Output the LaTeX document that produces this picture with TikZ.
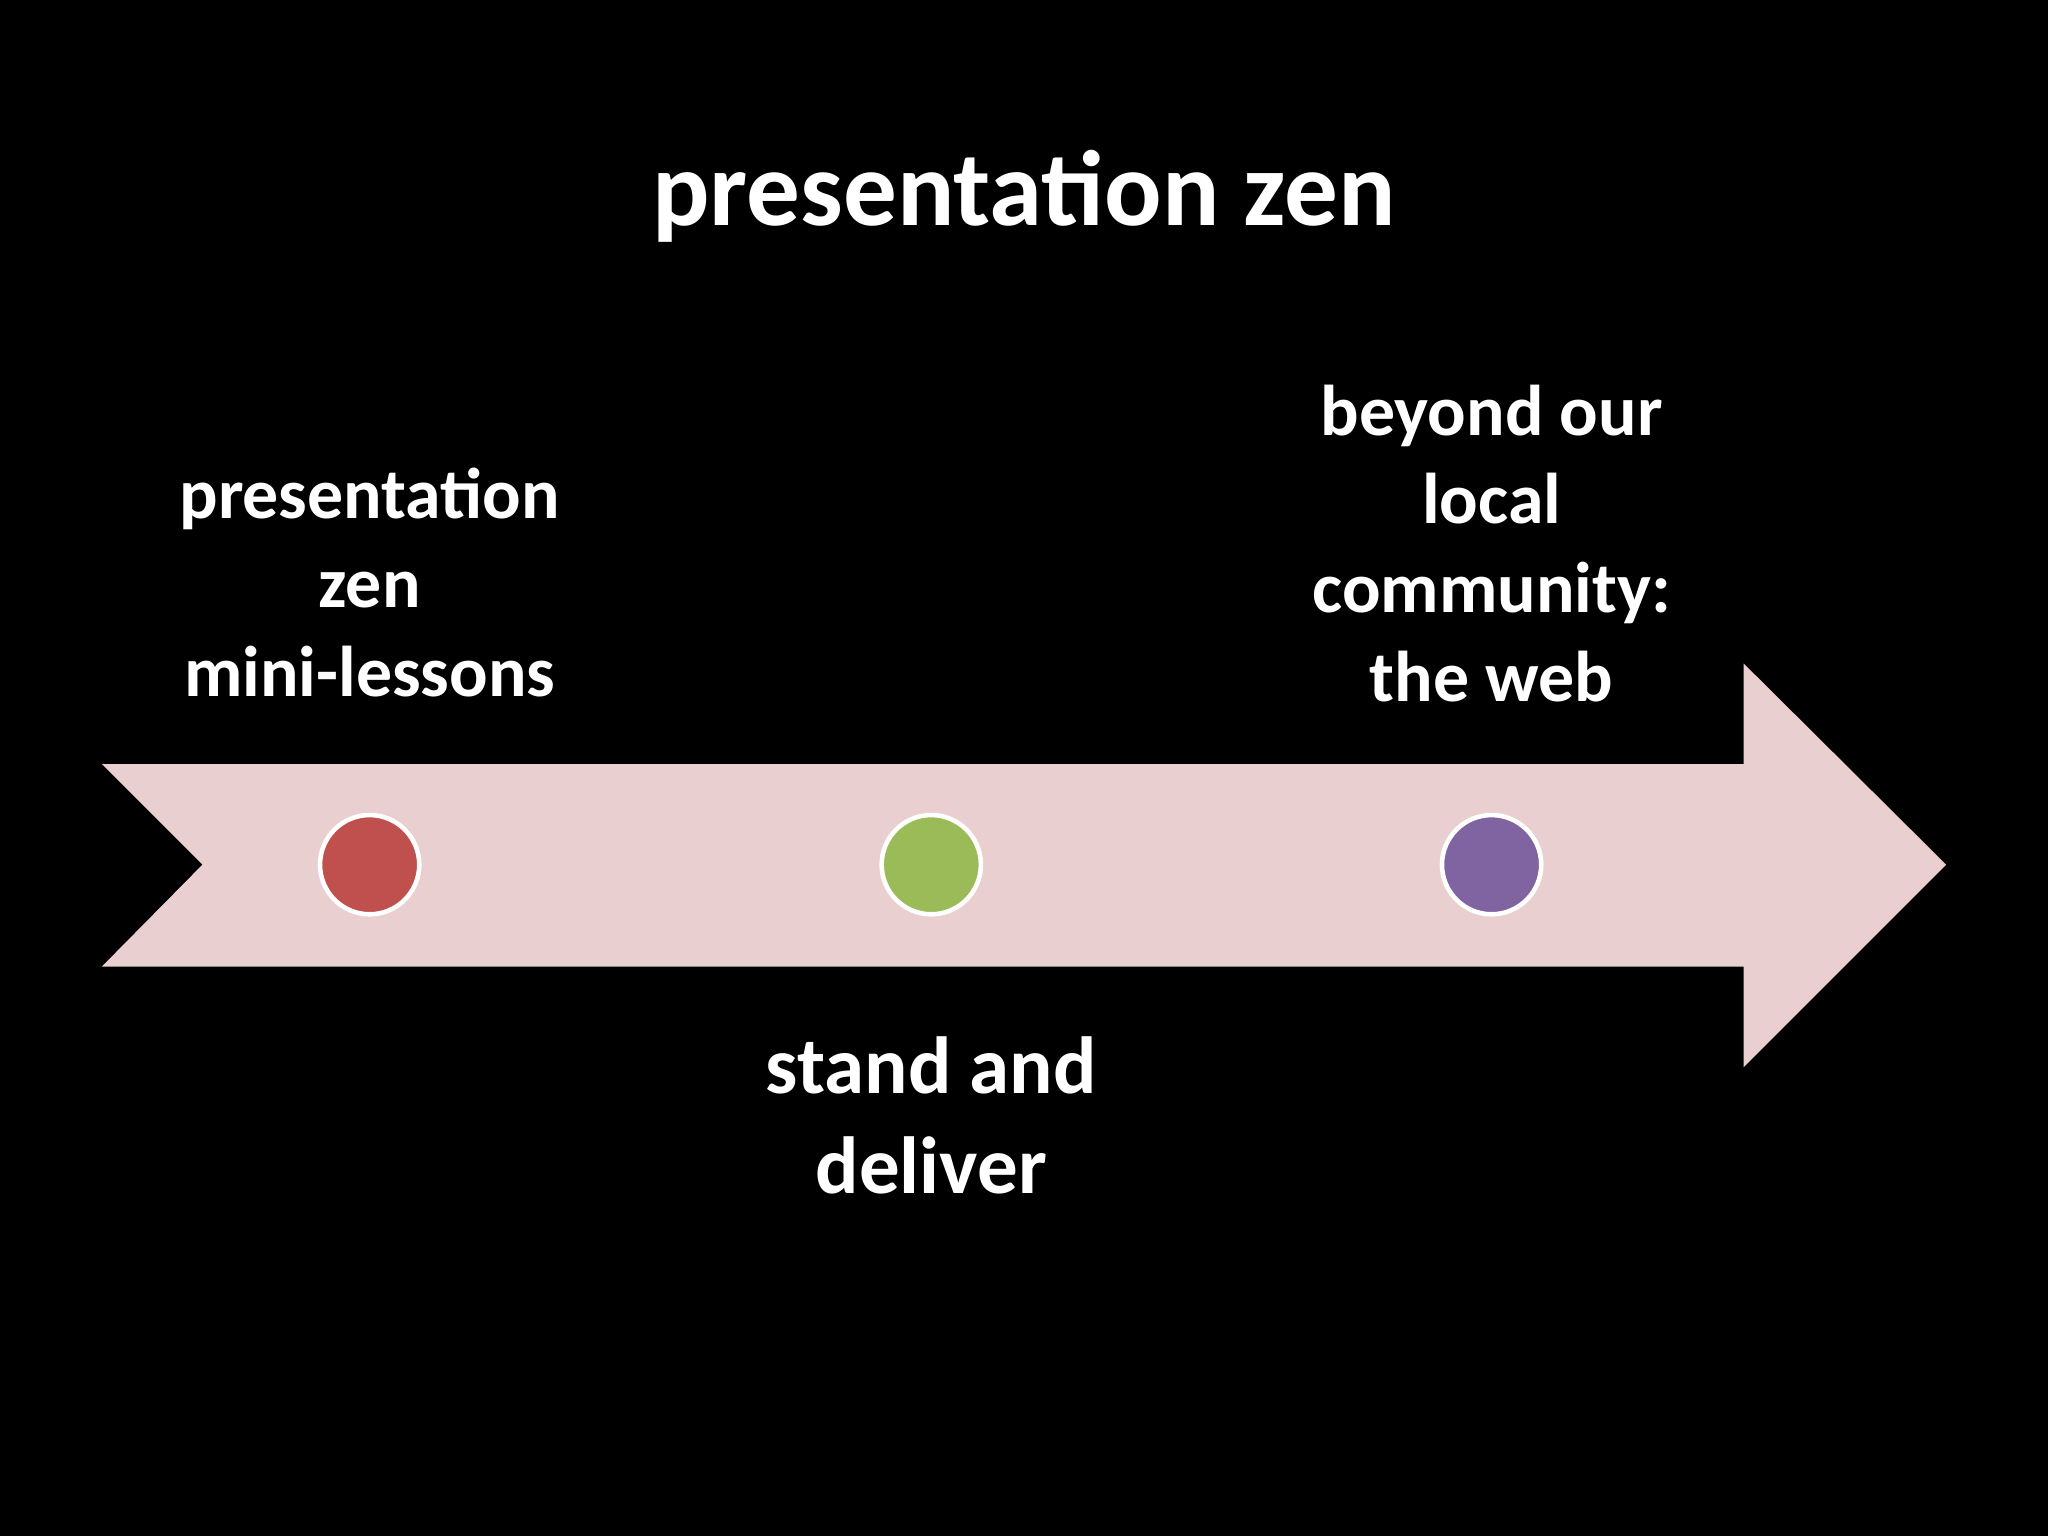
\documentclass[tikz,border=0pt]{standalone}
\usepackage{fontspec}
\setmainfont{Carlito}
\definecolor{arrowpink}{HTML}{EACFD0}
\definecolor{dotred}{HTML}{C0504D}
\definecolor{dotgreen}{HTML}{9BBB59}
\definecolor{dotpurple}{HTML}{8064A2}
\begin{document}
\begin{tikzpicture}[x=1pt,y=-1pt,
  dot/.style={circle,draw=white,line width=3.5pt,minimum size=76pt,inner sep=0pt},
  lbl/.style={text=white,font=\bfseries\fontsize{55}{68}\selectfont,align=center},
  big/.style={text=white,font=\bfseries\fontsize{62}{77}\selectfont,align=center}]
\fill[black] (0,0) rectangle (1568,1176);
\useasboundingbox (0,0) rectangle (1568,1176);
\node[text=white,font=\bfseries\fontsize{82}{96}\selectfont] (title) at (784,150) {presentation zen};
\fill[arrowpink] (78,585) -- (1335,585) -- (1335,508) -- (1490,662) -- (1335,817) -- (1335,740) -- (78,740) -- (155,662) -- cycle;
\node[dot,fill=dotred] (d1) at (283,662) {};
\node[dot,fill=dotgreen] (d2) at (713,662) {};
\node[dot,fill=dotpurple] (d3) at (1142,662) {};
\node[lbl] (l1) at (283,446) {presentation\\zen\\mini-lessons};
\node[lbl] (l3) at (1142,416) {beyond our\\local\\community:\\the web};
\node[big] (l2) at (713,854) {stand and\\deliver};
\end{tikzpicture}
\end{document}
